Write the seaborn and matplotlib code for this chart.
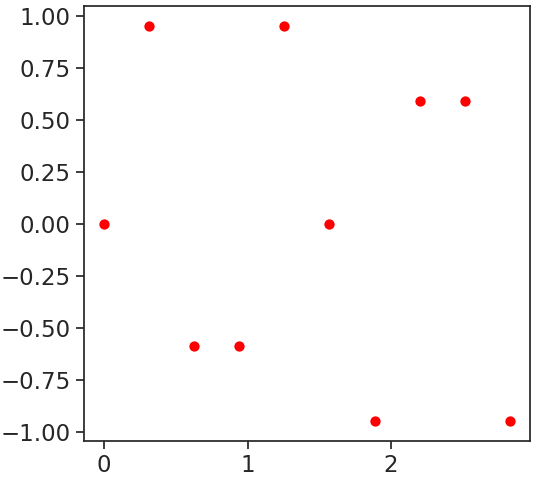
import matplotlib
matplotlib.use("Agg")
import matplotlib.pyplot as plt
import seaborn as sns
import pandas as pd

# values
x_vals = [0.0, 0.314, 0.628, 0.942, 1.257, 1.571, 1.885, 2.199, 2.513, 2.827]
y_vals = [0.0, 0.951, -0.588, -0.588, 0.951, 0.0, -0.951, 0.588, 0.588, -0.951]

df = pd.DataFrame({"x": x_vals, "y": y_vals})

sns.set_theme(style="ticks", font_scale=1.5)

fig = plt.figure(figsize=(5.37, 4.78), dpi=100)
ax = fig.add_axes([0.156, 0.077, 0.831, 0.910])
sns.scatterplot(data=df, x="x", y="y", color="red", s=55, linewidth=0, ax=ax)
ax.set_xlabel("")
ax.set_ylabel("")
ax.set_yticks([-1.0, -0.75, -0.5, -0.25, 0.0, 0.25, 0.5, 0.75, 1.0])
ax.set_xticks([0, 1, 2])

fig.savefig("out.png", dpi=100)
